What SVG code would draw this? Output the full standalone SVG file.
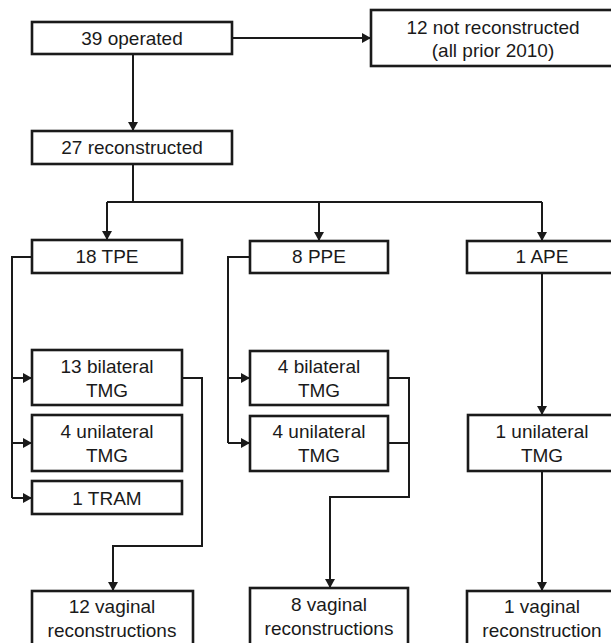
<svg xmlns="http://www.w3.org/2000/svg" width="611" height="643" viewBox="0 0 611 643">
<style>
  .box { fill: #ffffff; stroke: #1a1a1a; stroke-width: 2.6; }
  .lbl { font-family: "Liberation Sans", Arial, sans-serif; font-size: 19px; fill: #1a1a1a; text-anchor: middle; }
  .con { fill: none; stroke: #1a1a1a; stroke-width: 2; }
  .arr { marker-end: url(#ah); }
</style>
<defs>
  <marker id="ah" markerUnits="userSpaceOnUse" markerWidth="9" markerHeight="10" viewBox="0 0 9 10" refX="9" refY="5" orient="auto">
    <path d="M0,0 L9,5 L0,10 z" fill="#1a1a1a"/>
  </marker>
</defs>
<rect width="611" height="643" fill="#ffffff"/>

<g id="connectors">
  <path class="con arr" d="M232,38 H371"/>
  <path class="con arr" d="M133,54 V131"/>
  <path class="con" d="M133,164 V202 M107,202 H542"/>
  <path class="con arr" d="M107,202 V240"/>
  <path class="con arr" d="M319,202 V241"/>
  <path class="con arr" d="M542,202 V241"/>
  <path class="con" d="M32,257 H12 V498"/>
  <path class="con arr" d="M12,378 H32"/>
  <path class="con arr" d="M12,443 H32"/>
  <path class="con arr" d="M12,498 H32"/>
  <path class="con arr" d="M182,378 H202 V546 H113 V591"/>
  <path class="con" d="M250,257 H228 V443"/>
  <path class="con arr" d="M228,378 H250"/>
  <path class="con arr" d="M228,443 H250"/>
  <path class="con arr" d="M388,378 H409 V497 H330 V588"/>
  <path class="con" d="M388,443 H409"/>
  <path class="con arr" d="M542,273 V415"/>
  <path class="con arr" d="M542,471 V591"/>
</g>

<g id="n-operated">
  <rect class="box" x="32" y="22" width="200" height="32"/>
  <text class="lbl" x="132" y="45">39 operated</text>
</g>
<g id="n-not-reconstructed">
  <rect class="box" x="371" y="10" width="248" height="56"/>
  <text class="lbl" x="493" y="34">12 not reconstructed</text>
  <text class="lbl" x="493" y="57">(all prior 2010)</text>
</g>
<g id="n-reconstructed">
  <rect class="box" x="32" y="131" width="200" height="33"/>
  <text class="lbl" x="132" y="154">27 reconstructed</text>
</g>
<g id="n-tpe">
  <rect class="box" x="32" y="240" width="150" height="33"/>
  <text class="lbl" x="107" y="263">18 TPE</text>
</g>
<g id="n-ppe">
  <rect class="box" x="250" y="241" width="138" height="32"/>
  <text class="lbl" x="319" y="263">8 PPE</text>
</g>
<g id="n-ape">
  <rect class="box" x="467" y="241" width="152" height="32"/>
  <text class="lbl" x="542" y="263">1 APE</text>
</g>
<g id="n-tpe-bilateral">
  <rect class="box" x="32" y="350" width="150" height="55"/>
  <text class="lbl" x="107" y="373">13 bilateral</text>
  <text class="lbl" x="107" y="397">TMG</text>
</g>
<g id="n-tpe-unilateral">
  <rect class="box" x="32" y="415" width="150" height="56"/>
  <text class="lbl" x="107" y="438">4 unilateral</text>
  <text class="lbl" x="107" y="462">TMG</text>
</g>
<g id="n-tram">
  <rect class="box" x="32" y="481" width="150" height="33"/>
  <text class="lbl" x="107" y="505">1 TRAM</text>
</g>
<g id="n-ppe-bilateral">
  <rect class="box" x="250" y="351" width="138" height="54"/>
  <text class="lbl" x="319" y="373">4 bilateral</text>
  <text class="lbl" x="319" y="397">TMG</text>
</g>
<g id="n-ppe-unilateral">
  <rect class="box" x="250" y="416" width="138" height="55"/>
  <text class="lbl" x="319" y="438">4 unilateral</text>
  <text class="lbl" x="319" y="462">TMG</text>
</g>
<g id="n-ape-unilateral">
  <rect class="box" x="468" y="415" width="151" height="56"/>
  <text class="lbl" x="542" y="438">1 unilateral</text>
  <text class="lbl" x="542" y="462">TMG</text>
</g>
<g id="n-vag-12">
  <rect class="box" x="32" y="591" width="161" height="56"/>
  <text class="lbl" x="112" y="613">12 vaginal</text>
  <text class="lbl" x="112" y="637">reconstructions</text>
</g>
<g id="n-vag-8">
  <rect class="box" x="250" y="588" width="158" height="59"/>
  <text class="lbl" x="329" y="611">8 vaginal</text>
  <text class="lbl" x="329" y="635">reconstructions</text>
</g>
<g id="n-vag-1">
  <rect class="box" x="467" y="591" width="152" height="56"/>
  <text class="lbl" x="542" y="613">1 vaginal</text>
  <text class="lbl" x="542" y="637">reconstruction</text>
</g>
</svg>
